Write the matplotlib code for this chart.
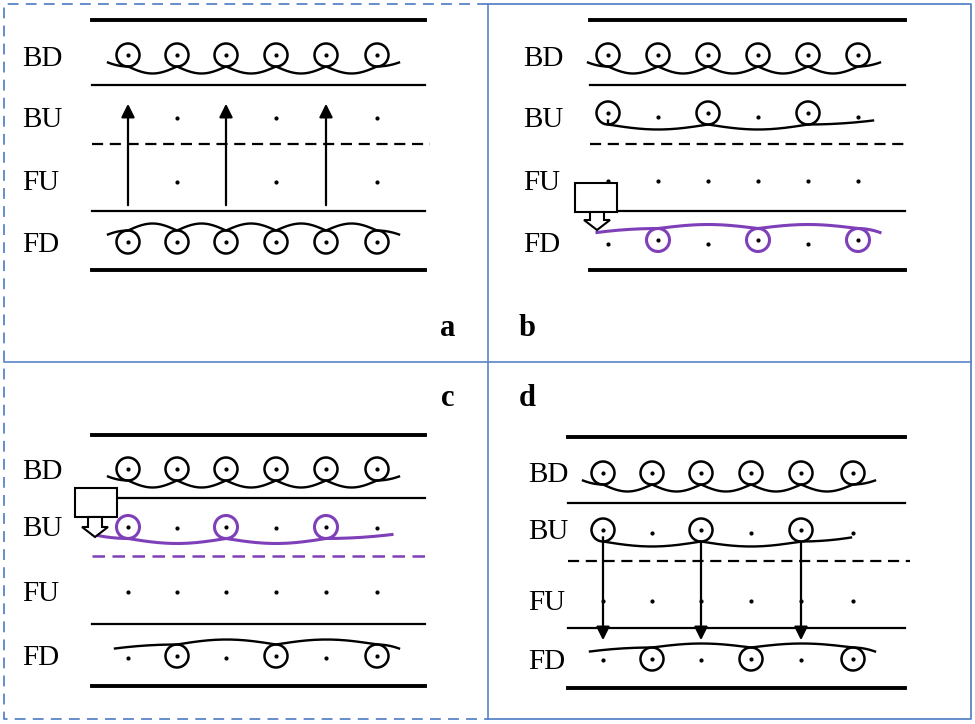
import numpy as np
import matplotlib
matplotlib.use("Agg")
import matplotlib.pyplot as plt
from matplotlib.patches import Circle, Rectangle, Polygon

labels = ["BD", "BU", "FU", "FD"]
panel_letters = ["a", "b", "c", "d"]
BLUE = "#5b84c8"; PURP = "#7e3fb8"

fig = plt.figure(figsize=(9.75, 7.24), dpi=100)
ax = fig.add_axes([0, 0, 1, 1])
ax.set_xlim(0, 975); ax.set_ylim(724, 0); ax.axis("off")

# frame
dsh = (0, (6, 4))
ax.plot([488, 4, 4, 488], [4, 4, 719, 719], ls=dsh, color=BLUE, lw=1.3)
ax.plot([488, 971, 971, 488], [4, 4, 719, 719], color=BLUE, lw=1.3)
ax.plot([488, 488], [4, 719], color=BLUE, lw=1.2)
ax.plot([4, 971], [362, 362], color=BLUE, lw=1.2)

R = 11.5
def circ(x, y, c="k", r=R, lw=1.8):
    ax.add_patch(Circle((x, y), r, fill=False, ec=c, lw=lw))
    ax.plot(x, y, "o", ms=2, color="k")

def dot(x, y):
    ax.plot(x, y, "o", ms=2, color="k")

def chain(xs, yc, d, c="k", sag=8, r=R, lext=20, rext=22, lw=1.7):
    yb = yc + d * r
    px, py = [], []
    s = np.linspace(0, 1, 40)
    px += list(xs[0] - lext + lext * s); py += list(yb - d * 4 * (1 - s) ** 2)
    for a, b in zip(xs[:-1], xs[1:]):
        px += list(a + (b - a) * s); py += list(yb + d * sag * np.sin(np.pi * s))
    px += list(xs[-1] + rext * s); py += list(yb - d * 4 * s ** 2)
    ax.plot(px, py, color=c, lw=lw)

def panel(x0, x1, ys, lx):
    top, bd, thin, bu, dash, fu, sol, fd, bot = ys
    ax.plot([x0, x1], [top, top], "k", lw=2.8)
    ax.plot([x0, x1], [bot, bot], "k", lw=2.8)
    ax.plot([x0, x1], [thin, thin], "k", lw=1.6)
    ax.plot([x0, x1], [sol, sol], "k", lw=1.6)
    for t, y in zip(labels, [bd, bu, fu, fd]):
        ax.text(lx, y + 2, t, fontsize=21, family="Liberation Serif", va="center", ha="left")

def box(x, y, tipx, tipy):
    ax.add_patch(Rectangle((x, y), 42, 29, fill=True, fc="white", ec="k", lw=1.5, zorder=5))
    ax.add_patch(Polygon([(tipx - 7, y + 29), (tipx - 7, tipy - 10), (tipx - 13, tipy - 10),
                          (tipx, tipy), (tipx + 13, tipy - 10), (tipx + 7, tipy - 10),
                          (tipx + 7, y + 29)], closed=True, fc="white", ec="k", lw=1.5, zorder=5))

AP = dict(arrowstyle="-|>", color="k", lw=1.6, mutation_scale=20)

# panel a
xa = [128, 177, 226, 276, 326, 377]
panel(92, 425, [20, 57, 85, 118, 144, 181, 211, 243, 270], 22)
ax.plot([92, 430], [144, 144], "k", ls=(0, (5, 3)), lw=1.6)
for x in xa: circ(x, 55)
chain(xa, 55, 1, sag=7)
for x in xa: circ(x, 242)
chain(xa, 242, -1, sag=7)
for x in xa[1::2]:
    dot(x, 118); dot(x, 182)
for x in xa[0::2]:
    ax.annotate("", xy=(x, 101), xytext=(x, 208), arrowprops=AP)

# panel b
xb = [608, 658, 708, 758, 808, 858]
panel(590, 905, [20, 57, 85, 118, 144, 181, 211, 243, 270], 523)
ax.plot([590, 910], [144, 144], "k", ls=(0, (5, 3)), lw=1.6)
for x in xb: circ(x, 55)
chain(xb, 55, 1, sag=7)
for x in xb[0::2]: circ(x, 113)
for x in xb[1::2]: dot(x, 117)
chain(xb[0::2], 113, 1, sag=5, lext=0, rext=65)
for x in xb: dot(x, 181)
for x in xb[1::2]: circ(x, 240, c=PURP, lw=2.2)
for x in xb[0::2]: dot(x, 244)
chain(xb[1::2], 240, -1, c=PURP, sag=4, lext=61, rext=22, lw=2.2)
box(575, 183, 597, 230)

# panel c
panel(92, 425, [435, 470, 498, 527, 556, 592, 624, 656, 686], 22)
ax.plot([92, 430], [556, 556], color=PURP, ls=(0, (5, 3)), lw=1.8)
for x in xa: circ(x, 469)
chain(xa, 469, 1, sag=7)
for x in xa[0::2]: circ(x, 527, c=PURP, lw=2.2)
for x in xa[1::2]: dot(x, 528)
chain(xa[0::2], 527, 1, c=PURP, sag=5, lext=35, rext=66, lw=2.2)
for x in xa: dot(x, 592)
for x in xa[1::2]: circ(x, 656)
for x in xa[0::2]: dot(x, 658)
chain(xa[1::2], 656, -1, sag=5, lext=62, rext=22)
box(75, 488, 95, 537)

# panel d
xd = [603, 652, 701, 751, 801, 853]
panel(568, 905, [437, 473, 503, 530, 561, 601, 628, 660, 688], 528)
ax.plot([568, 910], [561, 561], "k", ls=(0, (5, 3)), lw=1.6)
for x in xd: circ(x, 473)
chain(xd, 473, 1, sag=7)
for x in xd[0::2]: circ(x, 530)
for x in xd[1::2]: dot(x, 533)
chain(xd[0::2], 530, 1, sag=5, lext=0, rext=50)
for x in xd: dot(x, 601)
for x in xd[1::2]: circ(x, 659)
for x in xd[0::2]: dot(x, 660)
chain(xd[1::2], 659, -1, sag=4, lext=62, rext=22)
for x in xd[0::2]:
    ax.annotate("", xy=(x, 643), xytext=(x, 540), arrowprops=AP)

for t, (x, y) in zip(panel_letters, [(448, 328), (527, 328), (448, 398), (527, 398)]):
    ax.text(x, y, t, fontsize=22, weight="bold", family="Liberation Serif", ha="center", va="center")

fig.savefig("out.png", dpi=100)
